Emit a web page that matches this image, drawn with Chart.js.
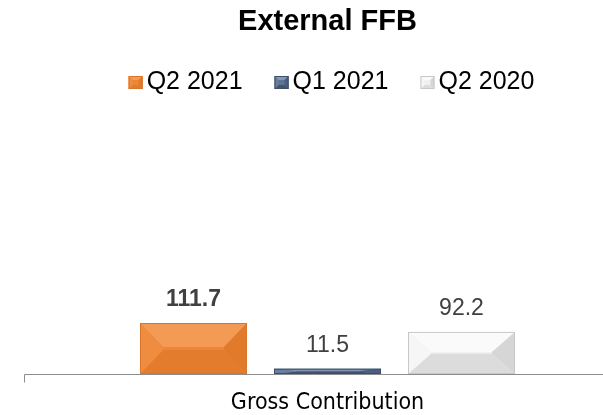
<!DOCTYPE html>
<html>
<head>
<meta charset="utf-8">
<script src="https://cdn.jsdelivr.net/npm/chart.js@4/dist/chart.umd.min.js"></script>
<style>
html,body{margin:0;padding:0;background:#fff;}
#wrap{width:603px;height:415px;position:relative;}
</style>
</head>
<body>
<div id="wrap"><canvas id="c" width="603" height="415"></canvas></div>
<script>
const categories = ["Gross Contribution"];
const seriesNames = ["Q2 2021", "Q1 2021", "Q2 2020"];
const seriesValues = [[111.7], [11.5], [92.2]];
const labelBold = [true, false, false];

const palettes = [
  {main:"#EF8636", light:"#F39A55", dark:"#E47C2D", side:"#F08C40", rside:"#E27A2C", border:"#D8762C"},
  {main:"#5E7394", light:"#8597B3", dark:"#42536F", side:"#6A7E9E", rside:"#4B5E80", border:"#3E4E68"},
  {main:"#F0F0F0", light:"#FAFAFA", dark:"#DCDCDC", side:"#F6F6F6", rside:"#D6D6D6", border:"#C8C8C8"}
];

function bevelRect(ctx, l, t, r, b, p, dxMax, dMax) {
  const h = b - t, w = r - l;
  const d = Math.min(h * 0.48, dMax);
  const dx = Math.min(w * 0.45, dxMax);
  ctx.fillStyle = p.main;
  ctx.fillRect(l, t, w, h);
  ctx.fillStyle = p.light;
  ctx.beginPath(); ctx.moveTo(l,t); ctx.lineTo(r,t); ctx.lineTo(r-dx,t+d); ctx.lineTo(l+dx,t+d); ctx.closePath(); ctx.fill();
  ctx.fillStyle = p.dark;
  ctx.beginPath(); ctx.moveTo(l,b); ctx.lineTo(r,b); ctx.lineTo(r-dx,b-d); ctx.lineTo(l+dx,b-d); ctx.closePath(); ctx.fill();
  ctx.fillStyle = p.side;
  ctx.beginPath(); ctx.moveTo(l,t); ctx.lineTo(l+dx,t+d); ctx.lineTo(l+dx,b-d); ctx.lineTo(l,b); ctx.closePath(); ctx.fill();
  ctx.fillStyle = p.rside;
  ctx.beginPath(); ctx.moveTo(r,t); ctx.lineTo(r-dx,t+d); ctx.lineTo(r-dx,b-d); ctx.lineTo(r,b); ctx.closePath(); ctx.fill();
  ctx.strokeStyle = p.border; ctx.lineWidth = 1;
  ctx.strokeRect(l+0.5, t+0.5, w-1, h-1);
}

const bevelPlugin = {
  id: 'bevel',
  afterDatasetsDraw(chart) {
    const ctx = chart.ctx;
    chart.data.datasets.forEach((ds, i) => {
      const meta = chart.getDatasetMeta(i);
      const p = palettes[i];
      meta.data.forEach(bar => {
        const l = bar.x - bar.width/2, r = bar.x + bar.width/2;
        ctx.save();
        bevelRect(ctx, l, bar.y, r, bar.base, p, 23, 24);
        ctx.fillStyle = "#404040";
        ctx.font = (labelBold[i] ? "bold " : "") + "23px 'Liberation Sans', Arial, sans-serif";
        ctx.textAlign = "center"; ctx.textBaseline = "middle";
        ctx.fillText(ds.data[0].toFixed(1), bar.x, bar.y - 23);
        ctx.restore();
      });
    });
  },
  afterDraw(chart) {
    const ctx = chart.ctx;
    const ca = chart.chartArea;
    const y = ca.bottom + 0.5;
    ctx.save();
    ctx.strokeStyle = "#8C8C8C"; ctx.lineWidth = 1;
    ctx.beginPath(); ctx.moveTo(24.5, y); ctx.lineTo(603, y);
    ctx.moveTo(24.5, y); ctx.lineTo(24.5, y + 8); ctx.stroke();
    // legend
    ctx.font = "25px 'Liberation Sans', Arial, sans-serif";
    ctx.textBaseline = "middle"; ctx.textAlign = "left";
    const box = 14, gap = 4, spacing = 32;
    const widths = seriesNames.map(n => ctx.measureText(n).width);
    const total = widths.reduce((a, w) => a + box + gap + w, 0) + spacing * (seriesNames.length - 1);
    let x = (ca.left + ca.right) / 2 + 4 - total / 2;
    const ly = 82;
    seriesNames.forEach((n, i) => {
      bevelRect(ctx, x, ly - 6, x + box, ly + 7, palettes[i], 4, 4);
      ctx.fillStyle = "#000";
      ctx.fillText(n, x + box + gap, ly);
      x += box + gap + widths[i] + spacing;
    });
    ctx.restore();
  }
};

new Chart(document.getElementById('c'), {
  type: 'bar',
  data: {
    labels: categories,
    datasets: seriesNames.map((n, i) => ({
      label: n,
      data: seriesValues[i],
      backgroundColor: 'rgba(0,0,0,0)',
      borderWidth: 0
    }))
  },
  options: {
    responsive: false,
    animation: false,
    devicePixelRatio: 1,
    categoryPercentage: 0.7296,
    barPercentage: 0.7985,
    layout: {padding: {left: 52, right: 0, top: 0, bottom: 0}},
    plugins: {
      title: {display: true, text: 'External FFB', color: '#000', font: {family: "'Liberation Sans', Arial", size: 29, weight: 'bold'}, padding: {top: 5, bottom: 106}},
      legend: {display: false},
      tooltip: {enabled: false}
    },
    scales: {
      x: {
        grid: {display: false, drawTicks: false},
        border: {display: false},
        ticks: {color: '#000', font: {family: "'DejaVu Sans Condensed', Tahoma, sans-serif", size: 23, lineHeight: 1}, padding: 18},
        afterFit(scale) { scale.height = 41; }
      },
      y: {
        display: false,
        min: 0, max: 500
      }
    }
  },
  plugins: [bevelPlugin]
});
</script>
</body>
</html>
